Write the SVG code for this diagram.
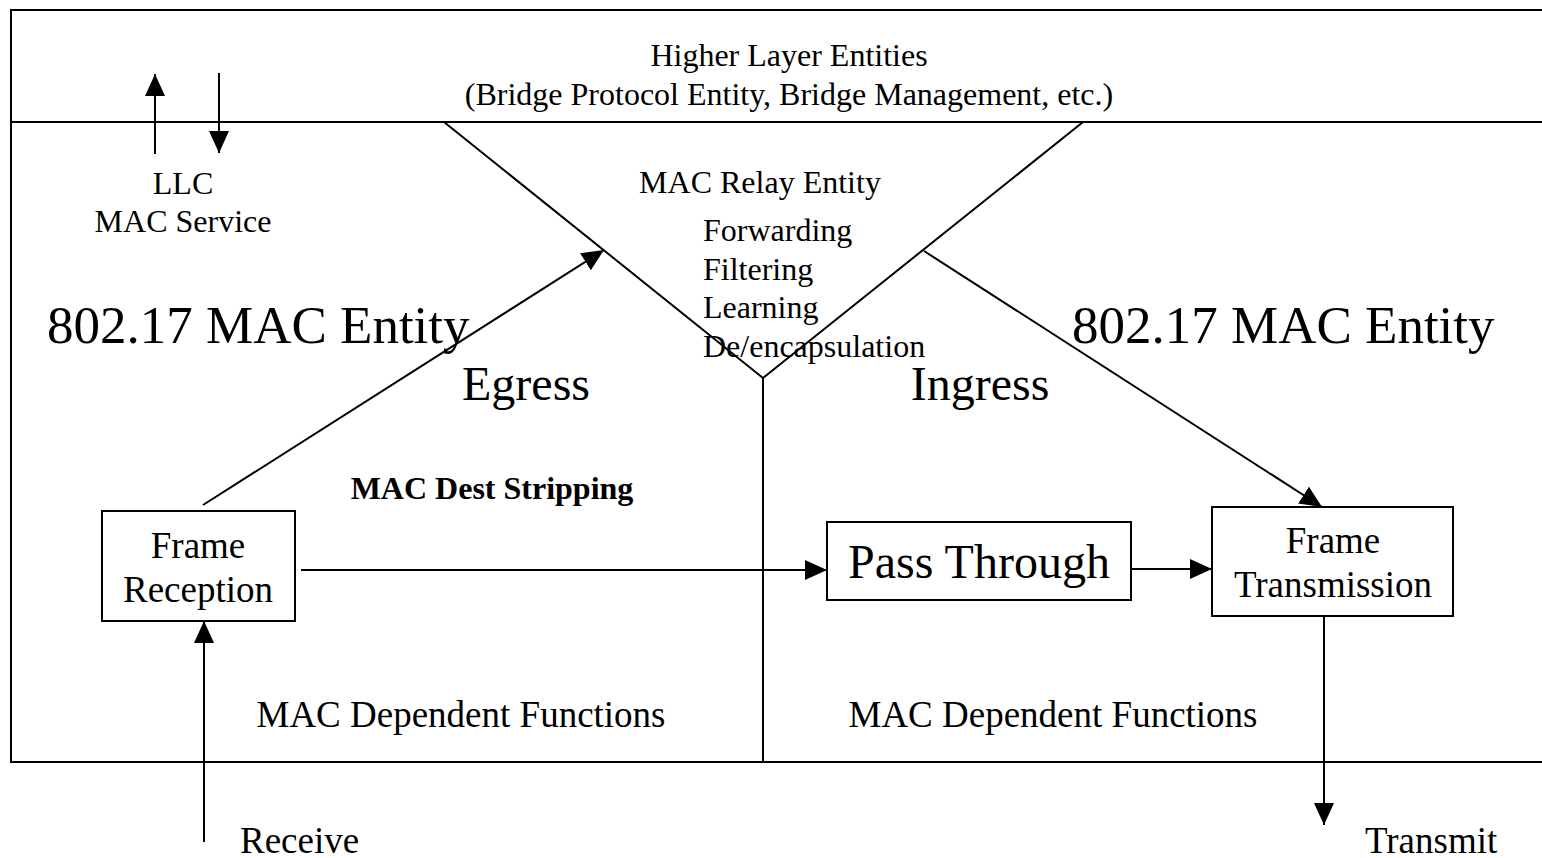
<svg xmlns="http://www.w3.org/2000/svg" width="1542" height="858" viewBox="0 0 1542 858">
  <style>
    .ln { stroke: #000; stroke-width: 2; fill: none; }
    .box { stroke: #000; stroke-width: 2; fill: #fff; }
    .t { font-family: "Liberation Serif", "Times New Roman", serif; fill: #000; }
    .s32 { font-size: 32px; }
    .s37 { font-size: 37px; }
    .s48 { font-size: 48px; }
    .s53 { font-size: 53px; }
    .b32 { font-size: 32px; font-weight: bold; }
    .mid { text-anchor: middle; }
  </style>
  <defs>
    <marker id="arr" viewBox="0 0 22 20" refX="22" refY="10" markerWidth="22" markerHeight="20" markerUnits="userSpaceOnUse" orient="auto">
      <path d="M0,0 L22,10 L0,20 Z" fill="#000"/>
    </marker>
  </defs>
  <rect width="1542" height="858" fill="#fff"/>

  <!-- frame of the bridge: open on the right -->
  <g id="frame">
    <path class="ln" d="M1542,10 L11,10 L11,762 L1542,762"/>
    <line class="ln" x1="11" y1="122" x2="1542" y2="122"/>
    <!-- relay entity wedge -->
    <path class="ln" d="M444,122 L763,378 L1083,122"/>
    <line class="ln" x1="763" y1="378" x2="763" y2="762"/>
  </g>

  <g id="higher-layer">
    <text class="t s32 mid" x="789" y="66">Higher Layer Entities</text>
    <text class="t s32 mid" x="789" y="105">(Bridge Protocol Entity, Bridge Management, etc.)</text>
  </g>

  <g id="llc">
    <text class="t s32 mid" x="183" y="194">LLC</text>
    <text class="t s32 mid" x="183" y="232">MAC Service</text>
  </g>

  <g id="relay">
    <text class="t s32 mid" x="760" y="193">MAC Relay Entity</text>
    <text class="t s32" x="703" y="241">Forwarding</text>
    <text class="t s32" x="703" y="280">Filtering</text>
    <text class="t s32" x="703" y="318">Learning</text>
    <text class="t s32" x="703" y="357">De/encapsulation</text>
  </g>

  <g id="mac-left">
    <text class="t s53" x="47" y="343">802.17 MAC Entity</text>
    <text class="t s48 mid" x="526" y="400">Egress</text>
    <text class="t b32 mid" x="492" y="499">MAC Dest Stripping</text>
    <text class="t s37 mid" x="461" y="727">MAC Dependent Functions</text>
  </g>

  <g id="mac-right">
    <text class="t s53" x="1072" y="343">802.17 MAC Entity</text>
    <text class="t s48 mid" x="980" y="400">Ingress</text>
    <text class="t s37 mid" x="1053" y="727">MAC Dependent Functions</text>
  </g>

  <g id="frame-reception">
    <rect class="box" x="102" y="511" width="193" height="110"/>
    <text class="t s37 mid" x="198" y="558">Frame</text>
    <text class="t s37 mid" x="198" y="602">Reception</text>
  </g>

  <g id="pass-through">
    <rect class="box" x="827" y="522" width="304" height="78"/>
    <text class="t s48 mid" x="979" y="578">Pass Through</text>
  </g>

  <g id="frame-transmission">
    <rect class="box" x="1212" y="507" width="241" height="109"/>
    <text class="t s37 mid" x="1333" y="553">Frame</text>
    <text class="t s37 mid" x="1333" y="597">Transmission</text>
  </g>

  <g id="connectors">
    <line class="ln" x1="155" y1="154" x2="155" y2="74" marker-end="url(#arr)"/>
    <line class="ln" x1="219" y1="73" x2="219" y2="153" marker-end="url(#arr)"/>
    <line class="ln" x1="203" y1="505" x2="604" y2="250" marker-end="url(#arr)"/>
    <line class="ln" x1="301" y1="570" x2="827" y2="570" marker-end="url(#arr)"/>
    <line class="ln" x1="1131" y1="569" x2="1212" y2="569" marker-end="url(#arr)"/>
    <line class="ln" x1="924" y1="251" x2="1322" y2="507" marker-end="url(#arr)"/>
    <line class="ln" x1="1324" y1="616" x2="1324" y2="825" marker-end="url(#arr)"/>
    <line class="ln" x1="204" y1="842" x2="204" y2="621" marker-end="url(#arr)"/>
  </g>

  <g id="ports">
    <text class="t s37" x="240" y="853">Receive</text>
    <text class="t s37" x="1365" y="853">Transmit</text>
  </g>
</svg>
